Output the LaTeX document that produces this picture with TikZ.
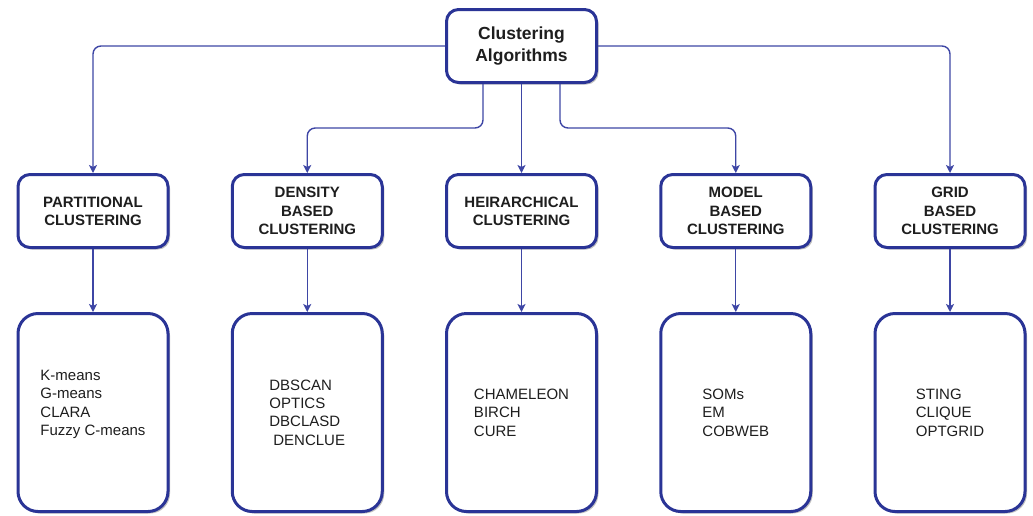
\documentclass[tikz,border=0pt]{standalone}
\usepackage{fontspec}
\setmainfont{Liberation Sans}
\usetikzlibrary{arrows.meta,shadows}
\definecolor{boxblue}{RGB}{42,52,150}
\definecolor{lineblue}{RGB}{62,70,165}
\definecolor{txt}{RGB}{30,30,30}

\begin{document}
\begin{tikzpicture}[x=1pt, y=-1pt, line join=round, >={Stealth[length=8pt,width=8pt,inset=2pt]},
	box/.style={draw=boxblue, line width=3pt, fill=white, minimum width=150pt, text=txt, align=center,
		drop shadow={shadow xshift=2pt, shadow yshift=-2pt, opacity=.25, fill=black}},
	grp/.style={box, rounded corners=12pt, minimum height=73pt, font=\bfseries\fontsize{15}{18.3}\selectfont},
	lst/.style={box, rounded corners=20pt, minimum height=198pt},
	items/.style={align=left, text=txt, font=\fontsize{15}{18.4}\selectfont},
	link/.style={draw=lineblue, line width=1.4pt, rounded corners=8pt}]
	\useasboundingbox (0,0) rectangle (1033,515);
	\def\d{214.25} % khoang cach giua cac cot
	\def\yg{211} % hang nhom
	\def\yl{412.5} % hang danh sach
	% goc
	\node[box, rounded corners=12pt, minimum height=73pt, font=\bfseries\fontsize{17.5}{22}\selectfont] (root) at (521.5,46) {Clustering\\Algorithms};
	% nhom
	\node[grp] (part) at (521.5-2*\d,\yg) {PARTITIONAL\\CLUSTERING};
	\node[grp] (dens) at (521.5-\d,\yg) {DENSITY\\BASED\\CLUSTERING};
	\node[grp] (heir) at (521.5,\yg) {HEIRARCHICAL\\CLUSTERING};
	\node[grp] (model) at (521.5+\d,\yg) {MODEL\\BASED\\CLUSTERING};
	\node[grp] (grid) at (521.5+2*\d,\yg) {GRID\\BASED\\CLUSTERING};
	% danh sach
	\node[lst] (partL) at (521.5-2*\d,\yl) {};
	\node[lst] (densL) at (521.5-\d,\yl) {};
	\node[lst] (heirL) at (521.5,\yl) {};
	\node[lst] (modelL) at (521.5+\d,\yl) {};
	\node[lst] (gridL) at (521.5+2*\d,\yl) {};
	\node[items, yshift=8pt] (partT) at (partL) {K-means\\G-means\\CLARA\\Fuzzy C-means};
	\node[items] (densT) at (densL) {DBSCAN\\OPTICS\\DBCLASD\\\hspace{4pt}DENCLUE};
	\node[items] (heirT) at (heirL) {CHAMELEON\\BIRCH\\CURE};
	\node[items] (modelT) at (modelL) {SOMs\\EM\\COBWEB};
	\node[items] (gridT) at (gridL) {STING\\CLIQUE\\OPTGRID};
	% noi
	\draw[link,->] (root.west) -| (part.north);
	\draw[link,->] (root.east) -| (grid.north);
	\draw[link,->] ([xshift=-38.5pt]root.south) -- ++(0,44) -| (dens.north);
	\draw[link,->] (root.south) -- (heir.north);
	\draw[link,->] ([xshift=38.5pt]root.south) -- ++(0,44) -| (model.north);
	\foreach \n in {part,dens,heir,model,grid}
		\draw[link,->] (\n.south) -- (\n L.north);
\end{tikzpicture}
\end{document}
